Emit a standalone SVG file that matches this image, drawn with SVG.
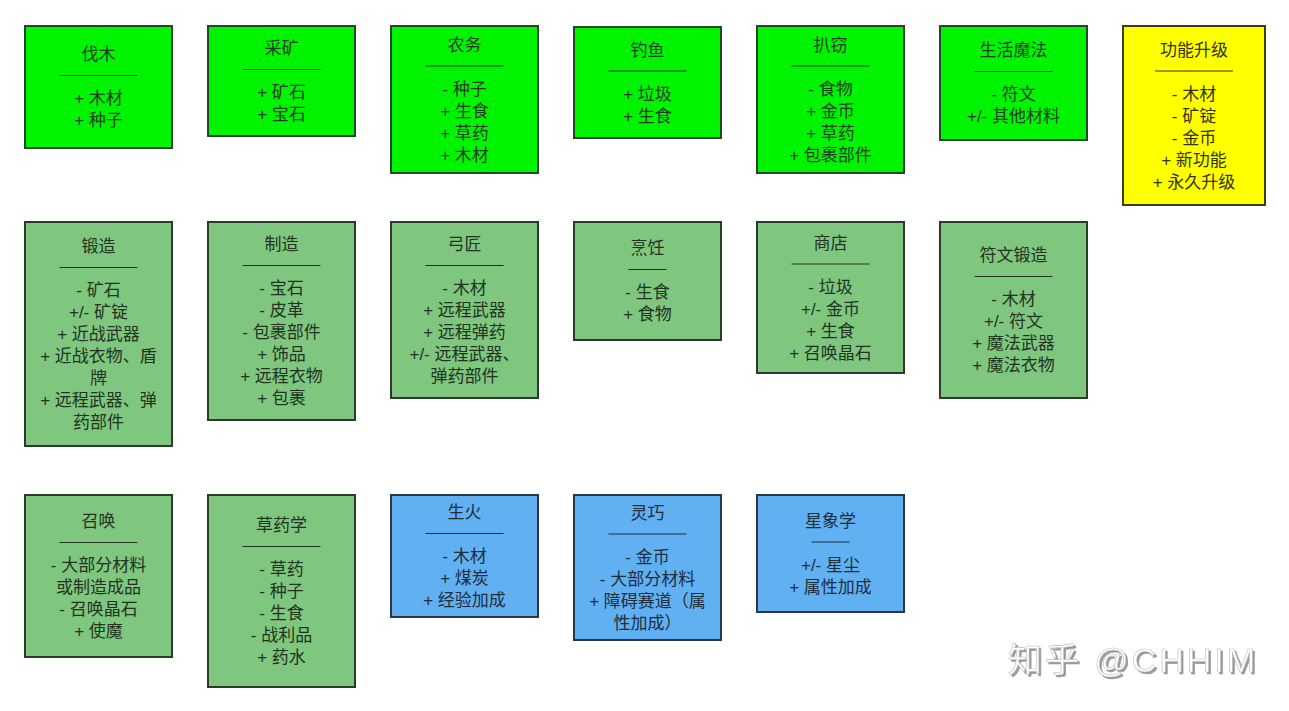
<svg xmlns="http://www.w3.org/2000/svg" width="1289" height="711" viewBox="0 0 1289 711">
<defs>
<style>
.bx{stroke-width:2}
.lime{fill:#00f400;stroke:#24472a}
.sage{fill:#7fc67f;stroke:#2b3a2b}
.yel{fill:#ffff00;stroke:#3d3d1e}
.sky{fill:#60b0f2;stroke:#2a3645}
.t{font-family:"Liberation Sans","Noto Sans CJK SC",sans-serif;font-size:17px;text-anchor:middle}
.tg{fill:#1e3d1e}
.ts{fill:#223322}
.ty{fill:#34340e}
.tb{fill:#1f2d3b}
.hg{stroke:#1e3d1e;stroke-width:1}
.hs{stroke:#223322;stroke-width:1}
.hy{stroke:#34340e;stroke-width:1}
.hb{stroke:#1f2d3b;stroke-width:1}
.wm{font-family:"Liberation Sans","Noto Sans CJK SC",sans-serif;font-size:34px;fill:#ffffff;stroke:#bdbdbd;stroke-width:0.6}
</style>
<filter id="sh" x="-5%" y="-20%" width="115%" height="150%">
<feDropShadow dx="2" dy="2" stdDeviation="0.5" flood-color="#8f8f8f" flood-opacity="0.9"/>
</filter>
</defs>
<rect width="1289" height="711" fill="#ffffff"/>

<g id="connectors"/>

<!-- Row 1 -->
<g id="famu">
<rect class="bx lime" x="25" y="26" width="147" height="122"/>
<text class="t tg" x="98.5" y="60">伐木</text>
<line class="hg" x1="59.5" y1="75.5" x2="137.5" y2="75.5"/>
<text class="t tg" x="98.5" y="104"><tspan x="98.5">+ 木材</tspan><tspan x="98.5" dy="22">+ 种子</tspan></text>
</g>
<g id="caikuang">
<rect class="bx lime" x="208" y="26" width="147" height="110"/>
<text class="t tg" x="281.5" y="54">采矿</text>
<line class="hg" x1="242.5" y1="69.5" x2="320.5" y2="69.5"/>
<text class="t tg" x="281.5" y="98"><tspan x="281.5">+ 矿石</tspan><tspan x="281.5" dy="22">+ 宝石</tspan></text>
</g>
<g id="nongwu">
<rect class="bx lime" x="391" y="26" width="147" height="147"/>
<text class="t tg" x="464.5" y="50.5">农务</text>
<line class="hg" x1="425.5" y1="66" x2="503.5" y2="66"/>
<text class="t tg" x="464.5" y="94.5"><tspan x="464.5">- 种子</tspan><tspan x="464.5" dy="22">+ 生食</tspan><tspan x="464.5" dy="22">+ 草药</tspan><tspan x="464.5" dy="22">+ 木材</tspan></text>
</g>
<g id="diaoyu">
<rect class="bx lime" x="574" y="27" width="147" height="111"/>
<text class="t tg" x="647.5" y="55.5">钓鱼</text>
<line class="hg" x1="608.5" y1="71" x2="686.5" y2="71"/>
<text class="t tg" x="647.5" y="99.5"><tspan x="647.5">+ 垃圾</tspan><tspan x="647.5" dy="22">+ 生食</tspan></text>
</g>
<g id="paqie">
<rect class="bx lime" x="757" y="26" width="147" height="147"/>
<text class="t tg" x="830.5" y="50.5">扒窃</text>
<line class="hg" x1="791.5" y1="66" x2="869.5" y2="66"/>
<text class="t tg" x="830.5" y="94.5"><tspan x="830.5">- 食物</tspan><tspan x="830.5" dy="22">+ 金币</tspan><tspan x="830.5" dy="22">+ 草药</tspan><tspan x="830.5" dy="22">+ 包裹部件</tspan></text>
</g>
<g id="shenghuomofa">
<rect class="bx lime" x="940" y="26" width="147" height="114"/>
<text class="t tg" x="1013.5" y="56">生活魔法</text>
<line class="hg" x1="974.5" y1="71.5" x2="1052.5" y2="71.5"/>
<text class="t tg" x="1013.5" y="100"><tspan x="1013.5">- 符文</tspan><tspan x="1013.5" dy="22">+/- 其他材料</tspan></text>
</g>
<g id="gongnengshengji">
<rect class="bx yel" x="1123" y="26" width="142" height="179"/>
<text class="t ty" x="1194" y="55.5">功能升级</text>
<line class="hy" x1="1155" y1="71" x2="1233" y2="71"/>
<text class="t ty" x="1194" y="99.5"><tspan x="1194">- 木材</tspan><tspan x="1194" dy="22">- 矿锭</tspan><tspan x="1194" dy="22">- 金币</tspan><tspan x="1194" dy="22">+ 新功能</tspan><tspan x="1194" dy="22">+ 永久升级</tspan></text>
</g>

<!-- Row 2 -->
<g id="duanzao">
<rect class="bx sage" x="25" y="222" width="147" height="224"/>
<text class="t ts" x="98.5" y="252">锻造</text>
<line class="hs" x1="59.5" y1="267.5" x2="137.5" y2="267.5"/>
<text class="t ts" x="98.5" y="296"><tspan x="98.5">- 矿石</tspan><tspan x="98.5" dy="22">+/- 矿锭</tspan><tspan x="98.5" dy="22">+ 近战武器</tspan><tspan x="98.5" dy="22">+ 近战衣物、盾</tspan><tspan x="98.5" dy="22">牌</tspan><tspan x="98.5" dy="22">+ 远程武器、弹</tspan><tspan x="98.5" dy="22">药部件</tspan></text>
</g>
<g id="zhizao">
<rect class="bx sage" x="208" y="222" width="147" height="198"/>
<text class="t ts" x="281.5" y="250">制造</text>
<line class="hs" x1="242.5" y1="265.5" x2="320.5" y2="265.5"/>
<text class="t ts" x="281.5" y="294"><tspan x="281.5">- 宝石</tspan><tspan x="281.5" dy="22">- 皮革</tspan><tspan x="281.5" dy="22">- 包裹部件</tspan><tspan x="281.5" dy="22">+ 饰品</tspan><tspan x="281.5" dy="22">+ 远程衣物</tspan><tspan x="281.5" dy="22">+ 包裹</tspan></text>
</g>
<g id="gongjiang">
<rect class="bx sage" x="391" y="222" width="147" height="176"/>
<text class="t ts" x="464.5" y="250">弓匠</text>
<line class="hs" x1="425.5" y1="265.5" x2="503.5" y2="265.5"/>
<text class="t ts" x="464.5" y="294"><tspan x="464.5">- 木材</tspan><tspan x="464.5" dy="22">+ 远程武器</tspan><tspan x="464.5" dy="22">+ 远程弹药</tspan><tspan x="464.5" dy="22">+/- 远程武器、</tspan><tspan x="464.5" dy="22">弹药部件</tspan></text>
</g>
<g id="pengren">
<rect class="bx sage" x="574" y="222" width="147" height="118"/>
<text class="t ts" x="647.5" y="254">烹饪</text>
<line class="hs" x1="628.5" y1="269.5" x2="666.5" y2="269.5"/>
<text class="t ts" x="647.5" y="298"><tspan x="647.5">- 生食</tspan><tspan x="647.5" dy="22">+ 食物</tspan></text>
</g>
<g id="shangdian">
<rect class="bx sage" x="757" y="222" width="147" height="151"/>
<text class="t ts" x="830.5" y="248.5">商店</text>
<line class="hs" x1="791.5" y1="264" x2="869.5" y2="264"/>
<text class="t ts" x="830.5" y="292.5"><tspan x="830.5">- 垃圾</tspan><tspan x="830.5" dy="22">+/- 金币</tspan><tspan x="830.5" dy="22">+ 生食</tspan><tspan x="830.5" dy="22">+ 召唤晶石</tspan></text>
</g>
<g id="fuwenduanzao">
<rect class="bx sage" x="940" y="222" width="147" height="176"/>
<text class="t ts" x="1013.5" y="261">符文锻造</text>
<line class="hs" x1="974.5" y1="276.5" x2="1052.5" y2="276.5"/>
<text class="t ts" x="1013.5" y="305"><tspan x="1013.5">- 木材</tspan><tspan x="1013.5" dy="22">+/- 符文</tspan><tspan x="1013.5" dy="22">+ 魔法武器</tspan><tspan x="1013.5" dy="22">+ 魔法衣物</tspan></text>
</g>

<!-- Row 3 -->
<g id="zhaohuan">
<rect class="bx sage" x="25" y="495" width="147" height="162"/>
<text class="t ts" x="98.5" y="527">召唤</text>
<line class="hs" x1="59.5" y1="542.5" x2="137.5" y2="542.5"/>
<text class="t ts" x="98.5" y="571"><tspan x="98.5">- 大部分材料</tspan><tspan x="98.5" dy="22">或制造成品</tspan><tspan x="98.5" dy="22">- 召唤晶石</tspan><tspan x="98.5" dy="22">+ 使魔</tspan></text>
</g>
<g id="caoyaoxue">
<rect class="bx sage" x="208" y="495" width="147" height="192"/>
<text class="t ts" x="281.5" y="531">草药学</text>
<line class="hs" x1="242.5" y1="546.5" x2="320.5" y2="546.5"/>
<text class="t ts" x="281.5" y="575"><tspan x="281.5">- 草药</tspan><tspan x="281.5" dy="22">- 种子</tspan><tspan x="281.5" dy="22">- 生食</tspan><tspan x="281.5" dy="22">- 战利品</tspan><tspan x="281.5" dy="22">+ 药水</tspan></text>
</g>
<g id="shenghuo">
<rect class="bx sky" x="391" y="495" width="147" height="122"/>
<text class="t tb" x="464.5" y="518">生火</text>
<line class="hb" x1="425.5" y1="533.5" x2="503.5" y2="533.5"/>
<text class="t tb" x="464.5" y="562"><tspan x="464.5">- 木材</tspan><tspan x="464.5" dy="22">+ 煤炭</tspan><tspan x="464.5" dy="22">+ 经验加成</tspan></text>
</g>
<g id="lingqiao">
<rect class="bx sky" x="574" y="495" width="147" height="145"/>
<text class="t tb" x="647.5" y="518.5">灵巧</text>
<line class="hb" x1="608.5" y1="534" x2="686.5" y2="534"/>
<text class="t tb" x="647.5" y="562.5"><tspan x="647.5">- 金币</tspan><tspan x="647.5" dy="22">- 大部分材料</tspan><tspan x="647.5" dy="22">+ 障碍赛道（属</tspan><tspan x="647.5" dy="22">性加成）</tspan></text>
</g>
<g id="xingxiangxue">
<rect class="bx sky" x="757" y="495" width="147" height="117"/>
<text class="t tb" x="830.5" y="526.5">星象学</text>
<line class="hb" x1="811.5" y1="542" x2="849.5" y2="542"/>
<text class="t tb" x="830.5" y="570.5"><tspan x="830.5">+/- 星尘</tspan><tspan x="830.5" dy="22">+ 属性加成</tspan></text>
</g>

<text class="wm" x="1008" y="672" textLength="247" lengthAdjust="spacing" filter="url(#sh)">知乎 @CHHIM</text>
</svg>
